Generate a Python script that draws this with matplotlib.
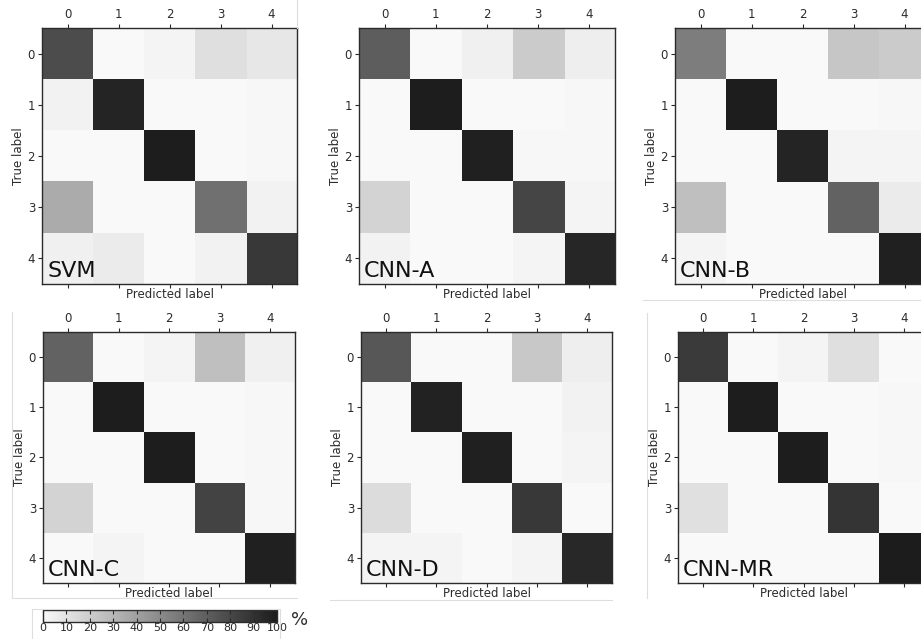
import numpy as np
import matplotlib
matplotlib.use("Agg")
import matplotlib.pyplot as plt
from matplotlib.colors import LinearSegmentedColormap
from matplotlib.patches import Rectangle
from matplotlib.lines import Line2D

classes = [0, 1, 2, 3, 4]
cbar_ticks = [0, 10, 20, 30, 40, 50, 60, 70, 80, 90, 100]

# confusion matrices in percent (rows = true label, cols = predicted label)
svm = [[78, 0, 2, 12, 8],
       [3, 96, 0, 0, 1],
       [0, 0, 99, 0, 1],
       [35, 0, 0, 62, 3],
       [4, 6, 0, 3, 87]]
cnn_a = [[70, 0, 4, 21, 5],
         [0, 99, 0, 0, 1],
         [0, 0, 98, 1, 1],
         [17, 0, 0, 81, 2],
         [3, 0, 0, 2, 95]]
cnn_b = [[56, 0, 0, 23, 21],
         [0, 99, 0, 0, 1],
         [0, 0, 96, 2, 2],
         [26, 0, 0, 68, 6],
         [2, 0, 0, 0, 98]]
cnn_c = [[68, 0, 2, 26, 4],
         [0, 99, 0, 0, 1],
         [0, 0, 99, 0, 1],
         [17, 0, 0, 82, 1],
         [0, 2, 0, 0, 98]]
cnn_d = [[73, 0, 0, 22, 5],
         [0, 97, 0, 0, 3],
         [0, 0, 98, 0, 2],
         [13, 0, 0, 87, 0],
         [2, 2, 0, 2, 94]]
cnn_mr = [[86, 0, 2, 12, 0],
          [0, 99, 0, 0, 1],
          [0, 0, 99, 0, 1],
          [11, 0, 0, 89, 0],
          [0, 0, 0, 0, 100]]

names = ["SVM", "CNN-A", "CNN-B", "CNN-C", "CNN-D", "CNN-MR"]
mats = [svm, cnn_a, cnn_b, cnn_c, cnn_d, cnn_mr]

W, H = 921, 639
cmap = LinearSegmentedColormap.from_list("faded_grey", ["#f9f9f9", "#1c1c1c"])
ink = "#2b2b2b"

fig = plt.figure(figsize=(W / 100, H / 100), dpi=100)


def px(l, t, w, h):
    # pixel box -> figure fraction
    return [l / W, 1 - (t + h) / H, w / W, h / H]


boxes = [(42, 28, 255, 256), (359, 28, 256, 256), (675, 28, 255, 256),
         (43, 332, 252, 251), (361, 332, 251, 251), (678, 332, 251, 251)]

# faint frames of the pasted panels
frame_col = "#dedede"
def hline(x0, x1, y):
    fig.add_artist(Line2D([x0 / W, x1 / W], [1 - y / H, 1 - y / H], transform=fig.transFigure, color=frame_col, lw=0.8))
def vline(x, y0, y1):
    fig.add_artist(Line2D([x / W, x / W], [1 - y0 / H, 1 - y1 / H], transform=fig.transFigure, color=frame_col, lw=0.8))

vline(12, 312, 598)
hline(12, 297, 598)
vline(297, 0, 28)
hline(643, 921, 300)
hline(330, 612, 600)
vline(647, 313, 598)
fig.add_artist(Rectangle((32 / W, 0), 248 / W, 30 / H, transform=fig.transFigure,
                         fill=False, edgecolor=frame_col, lw=0.8))

im = None
for name, m, b in zip(names, mats, boxes):
    ax = fig.add_axes(px(*b))
    im = ax.imshow(np.array(m), cmap=cmap, vmin=0, vmax=100, interpolation="nearest", aspect="auto")
    ax.set_xticks(classes)
    ax.set_yticks(classes)
    ax.set_xticklabels(classes)
    ax.set_yticklabels(classes)
    ax.tick_params(axis="x", top=True, bottom=True, labeltop=True, labelbottom=False,
                   length=3, width=0.8, colors=ink, labelsize=8.5, pad=2)
    ax.tick_params(axis="y", length=3, width=0.8, colors=ink, labelsize=8.5, pad=2)
    for s in ax.spines.values():
        s.set_color(ink)
        s.set_linewidth(1.0)
    ax.set_xlabel("Predicted label", fontsize=8.5, color=ink, labelpad=0)
    ax.set_ylabel("True label", fontsize=8.5, color=ink, labelpad=2)
    ax.text(0.02, 0.01, name, transform=ax.transAxes, fontsize=16, color="#111111",
            ha="left", va="bottom")

cax = fig.add_axes(px(43, 610, 234, 12))
cb = fig.colorbar(im, cax=cax, orientation="horizontal", ticks=cbar_ticks)
cb.outline.set_edgecolor(ink)
cb.outline.set_linewidth(1.0)
cax.tick_params(direction="in", top=True, bottom=True, length=3, width=0.8,
                colors=ink, labelsize=8, pad=1)
fig.text(300 / W, 1 - 620 / H, "%", fontsize=13, color=ink, ha="center", va="center")

fig.savefig("out.png", dpi=100)
